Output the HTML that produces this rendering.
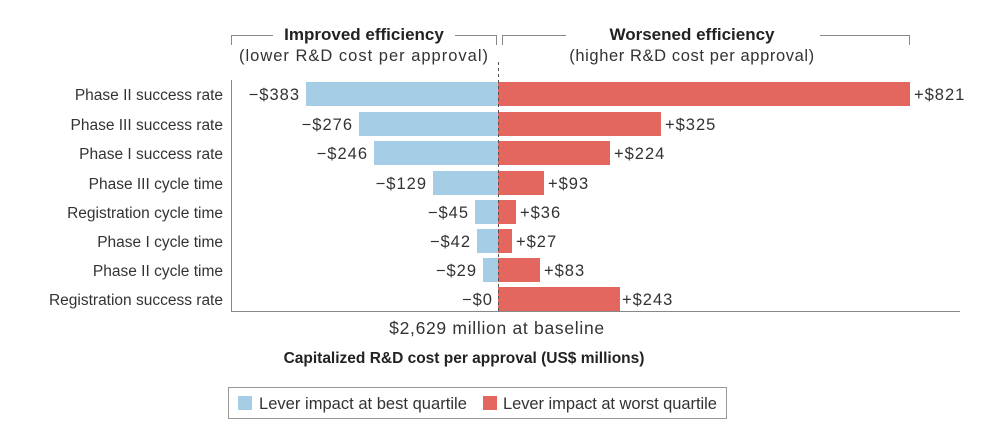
<!DOCTYPE html>
<html><head><meta charset="utf-8"><style>
body{margin:0;background:#fff;width:988px;height:433px;overflow:hidden}
svg{font-family:"Liberation Sans",sans-serif}
.r{font-size:16.5px;letter-spacing:0.4px;fill:#333}
.l{font-size:15.5px;fill:#333}
.v{font-size:16.5px;letter-spacing:1px;fill:#333}
.g{font-size:16.5px;letter-spacing:0.1px;fill:#333}
</style></head><body>
<svg width="988" height="433" viewBox="0 0 988 433">
<g fill="none" stroke="#888" stroke-width="1">
<path d="M231.5 45V35.5H273 M455 35.5H496.5V45"/>
<path d="M502.5 45V35.5H566 M820 35.5H909.5V45"/>
<path d="M231.5 80V311.5H960"/>
</g>
<text x="364" y="40" font-size="17" font-weight="bold" text-anchor="middle" fill="#222">Improved efficiency</text>
<text x="364" y="61" class="r" style="letter-spacing:1px" text-anchor="middle">(lower R&amp;D cost per approval)</text>
<text x="692" y="40" font-size="17" font-weight="bold" text-anchor="middle" fill="#222">Worsened efficiency</text>
<text x="692" y="61" class="r" style="letter-spacing:0.6px" text-anchor="middle">(higher R&amp;D cost per approval)</text>
<g class="l" text-anchor="end">
<text x="223" y="100">Phase II success rate</text>
<text x="223" y="130">Phase III success rate</text>
<text x="223" y="159">Phase I success rate</text>
<text x="223" y="189">Phase III cycle time</text>
<text x="223" y="218">Registration cycle time</text>
<text x="223" y="247">Phase I cycle time</text>
<text x="223" y="276">Phase II cycle time</text>
<text x="223" y="305">Registration success rate</text>
</g>
<g fill="#a6cde6">
<rect x="306" y="82" width="192" height="24"/>
<rect x="359" y="112" width="139" height="24"/>
<rect x="374" y="141" width="124" height="24"/>
<rect x="433" y="171" width="65" height="24"/>
<rect x="475" y="200" width="23" height="24"/>
<rect x="477" y="229" width="21" height="24"/>
<rect x="483" y="258" width="15" height="24"/>
</g>
<g fill="#e4675f">
<rect x="498" y="82" width="412" height="24"/>
<rect x="498" y="112" width="163" height="24"/>
<rect x="498" y="141" width="112" height="24"/>
<rect x="498" y="171" width="46" height="24"/>
<rect x="498" y="200" width="18" height="24"/>
<rect x="498" y="229" width="14" height="24"/>
<rect x="498" y="258" width="42" height="24"/>
<rect x="498" y="287" width="122" height="24"/>
</g>
<line x1="498.5" y1="62" x2="498.5" y2="312" stroke="#555" stroke-dasharray="3,3"/>
<g class="v">
<g text-anchor="end">
<text x="300" y="100">−$383</text>
<text x="353" y="130">−$276</text>
<text x="368" y="159">−$246</text>
<text x="427" y="189">−$129</text>
<text x="469" y="218">−$45</text>
<text x="471" y="247">−$42</text>
<text x="477" y="276">−$29</text>
<text x="493" y="305">−$0</text>
</g>
<text x="914" y="100">+$821</text>
<text x="665" y="130">+$325</text>
<text x="614" y="159">+$224</text>
<text x="548" y="189">+$93</text>
<text x="520" y="218">+$36</text>
<text x="516" y="247">+$27</text>
<text x="544" y="276">+$83</text>
<text x="622" y="305">+$243</text>
</g>
<text x="497" y="334" class="r" style="font-size:17.5px;letter-spacing:0.7px" text-anchor="middle">$2,629 million at baseline</text>
<text x="464" y="363" font-size="15.5" font-weight="bold" text-anchor="middle" fill="#222">Capitalized R&amp;D cost per approval (US$ millions)</text>
<rect x="228.5" y="387.5" width="498" height="31" fill="none" stroke="#999"/>
<rect x="238" y="396" width="14" height="14" fill="#a6cde6"/>
<text x="259" y="409" class="g" textLength="208">Lever impact at best quartile</text>
<rect x="483" y="396" width="14" height="14" fill="#e4675f"/>
<text x="503" y="409" class="g" textLength="214">Lever impact at worst quartile</text>
</svg>
</body></html>
